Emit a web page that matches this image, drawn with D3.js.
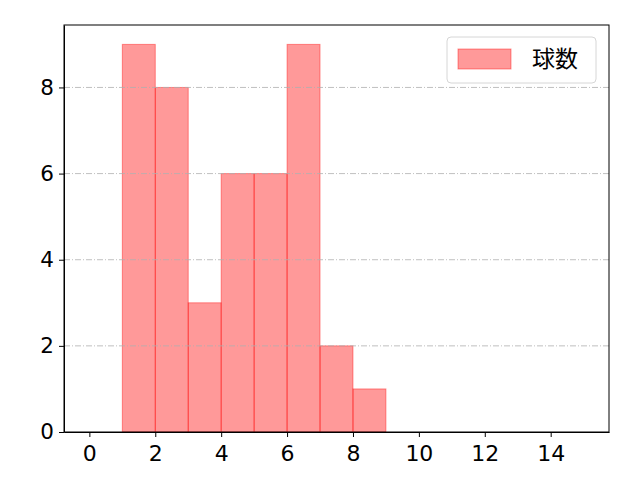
<!DOCTYPE html>
<html>
<head>
	<meta charset="utf-8">
	<script src="https://d3js.org/d3.v7.min.js"></script>
	<style>
		body { margin: 0; background: #fff; }
		text { font-family: "Noto Sans CJK JP", "DejaVu Sans", sans-serif; fill: #000; }
		.axis text { font-family: "DejaVu Sans", sans-serif; }
		.axis path, .axis line { stroke: #000; stroke-width: 1; }
		.grid line { stroke: #b0b0b0; stroke-width: 0.8; stroke-dasharray: 6,2,1,2; }
	</style>
</head>
<body>
	<svg width="640" height="480"></svg>
	<script>
		// histogram bins (left edges, width 1) and counts
		var binStarts = [1, 2, 3, 4, 5, 6, 7, 8];
		var counts = [9, 8, 3, 6, 6, 9, 2, 1];
		var xTicks = [0, 2, 4, 6, 8, 10, 12, 14];
		var yTicks = [0, 2, 4, 6, 8];
		var seriesName = "球数";

		var svg = d3.select("svg"),
			margin = {top: 25, right: 31, bottom: 48, left: 64},
			width = +svg.attr("width") - margin.left - margin.right,
			height = +svg.attr("height") - margin.top - margin.bottom;

		var x = d3.scaleLinear().domain([-0.77, 15.77]).range([0, width]);
		var y = d3.scaleLinear().domain([0, 9.45]).range([height, 0]);

		var g = svg.append("g")
			.attr("transform", "translate(" + margin.left + "," + margin.top + ")");

		var data = binStarts.map(function(d, i) { return {x0: d, x1: d + 1, n: counts[i]}; });

		g.selectAll(".bar")
			.data(data)
			.enter().append("rect")
			.attr("class", "bar")
			.attr("x", function(d) { return x(d.x0); })
			.attr("y", function(d) { return y(d.n); })
			.attr("width", function(d) { return x(d.x1) - x(d.x0); })
			.attr("height", function(d) { return height - y(d.n); })
			.attr("fill", "rgba(255,0,0,0.4)")
			.attr("stroke", "rgba(255,0,0,0.4)")
			.attr("stroke-width", 1);

		// horizontal grid (drawn over bars like matplotlib)
		g.append("g")
			.attr("class", "grid")
			.selectAll("line")
			.data(yTicks.filter(function(t) { return t > 0; }))
			.enter().append("line")
			.attr("x1", 0).attr("x2", width)
			.attr("y1", function(d) { return y(d); })
			.attr("y2", function(d) { return y(d); });

		g.append("g")
			.attr("class", "axis")
			.attr("transform", "translate(0," + height + ")")
			.call(d3.axisBottom(x).tickValues(xTicks).tickSize(5).tickPadding(8).tickSizeOuter(0))
			.selectAll("text").style("font-size", "22px");

		g.append("g")
			.attr("class", "axis")
			.call(d3.axisLeft(y).tickValues(yTicks).tickSize(5).tickPadding(5).tickSizeOuter(0))
			.selectAll("text").style("font-size", "21.5px");

		// frame
		g.append("rect")
			.attr("width", width).attr("height", height)
			.attr("fill", "none").attr("stroke", "#000").attr("stroke-width", 1);

		// legend
		var lg = svg.append("g").attr("transform", "translate(447,37)");
		lg.append("rect")
			.attr("width", 149).attr("height", 46).attr("rx", 4)
			.attr("fill", "rgba(255,255,255,0.8)").attr("stroke", "#d6d6d6");
		lg.append("rect")
			.attr("x", 11).attr("y", 12).attr("width", 53).attr("height", 20)
			.attr("fill", "rgba(255,0,0,0.4)").attr("stroke", "rgba(255,0,0,0.4)");
		lg.append("text")
			.attr("x", 85).attr("y", 22).attr("dy", "0.35em")
			.style("font-size", "23px")
			.text(seriesName);
	</script>
</body>
</html>
